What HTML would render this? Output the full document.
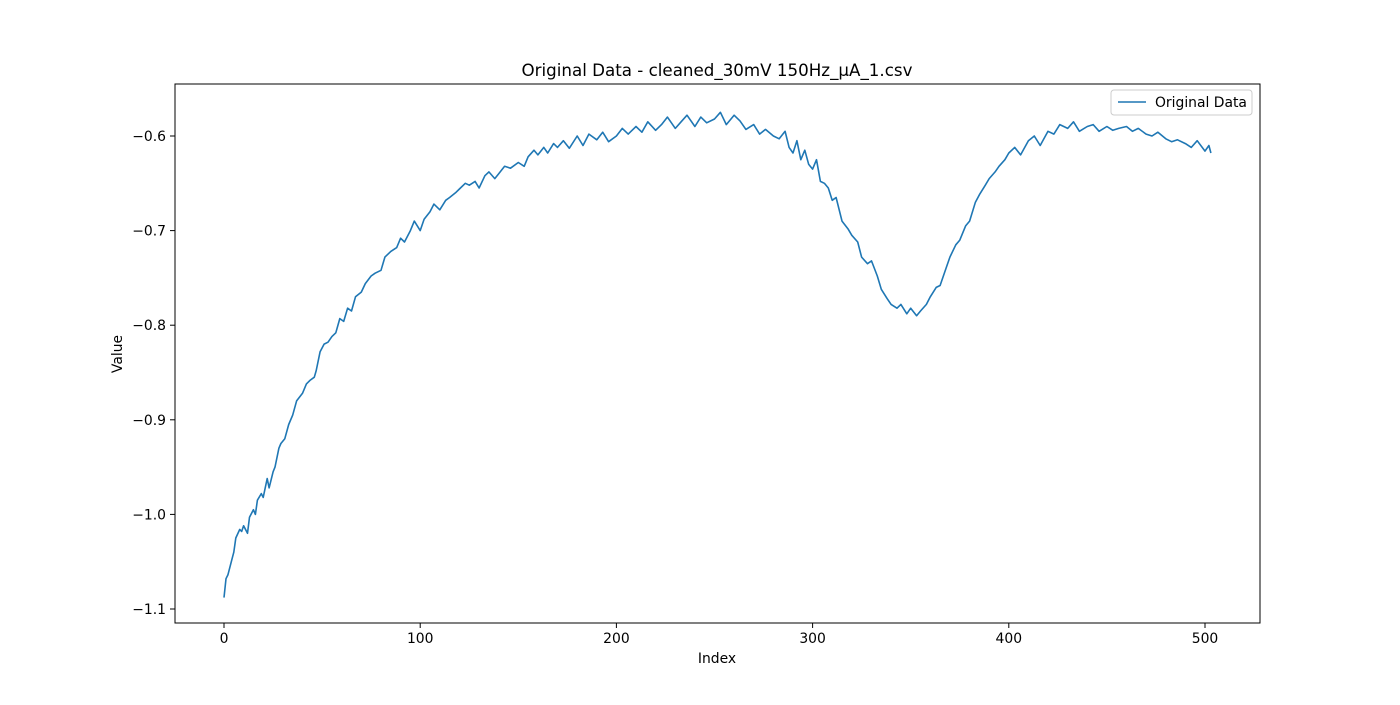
<!DOCTYPE html>
<html><head><meta charset="utf-8"><style>
body{margin:0;background:#fff;}
svg text{font-family:"DejaVu Sans","Liberation Sans",sans-serif;fill:#000;}
</style></head><body>
<svg width="1400" height="700" xmlns="http://www.w3.org/2000/svg">
<rect width="1400" height="700" fill="#fff"/>
<text x="717" y="76" font-size="16.7" text-anchor="middle">Original Data - cleaned_30mV 150Hz_µA_1.csv</text>
<g id="xt"></g><g id="yt"></g>
<polyline id="line" fill="none" stroke="#1f77b4" stroke-width="1.6" stroke-linejoin="round"/>
<rect x="175" y="84" width="1085" height="539" fill="none" stroke="#000" stroke-width="1"/>
<text x="717" y="663" font-size="13.9" text-anchor="middle">Index</text>
<text x="122" y="354" font-size="13.9" text-anchor="middle" transform="rotate(-90 122 354)">Value</text>
<g>
<rect x="1111" y="90" width="141" height="25" rx="3" fill="#fff" stroke="#ccc"/>
<line x1="1118" y1="102" x2="1146" y2="102" stroke="#1f77b4" stroke-width="1.6"/>
<text x="1155" y="107" font-size="13.9">Original Data</text>
</g>
</svg>
<script>
const xIdx=[0,1,2,4,5,6,8,9,10,12,13,15,16,17,19,20,22,23,25,26,28,29,31,33,35,37,40,42,44,46,47,49,51,53,55,57,59,61,63,65,67,70,72,75,77,80,82,85,88,90,92,95,97,100,102,105,107,110,113,115,118,120,123,125,128,130,133,135,138,140,143,146,150,153,155,158,160,163,165,168,170,173,176,180,183,186,190,193,196,200,203,206,210,213,216,220,223,226,230,233,236,240,243,246,250,253,256,260,263,266,270,273,276,280,283,286,288,290,292,294,296,298,300,302,304,306,308,310,312,315,318,320,323,325,328,330,333,335,338,340,343,345,348,350,353,355,358,360,363,365,368,370,373,375,378,380,383,385,388,390,393,395,398,400,403,406,410,413,416,420,423,426,430,433,436,440,443,446,450,453,456,460,463,466,470,473,476,480,483,486,490,493,496,500,502,503];
const yVal=[-1.088,-1.068,-1.064,-1.048,-1.040,-1.025,-1.016,-1.018,-1.012,-1.020,-1.003,-0.995,-1.000,-0.985,-0.978,-0.982,-0.962,-0.972,-0.955,-0.950,-0.930,-0.925,-0.920,-0.905,-0.895,-0.880,-0.872,-0.862,-0.858,-0.855,-0.848,-0.828,-0.820,-0.818,-0.812,-0.808,-0.793,-0.796,-0.782,-0.785,-0.770,-0.765,-0.756,-0.748,-0.745,-0.742,-0.728,-0.722,-0.718,-0.708,-0.712,-0.700,-0.690,-0.700,-0.688,-0.680,-0.672,-0.678,-0.668,-0.665,-0.660,-0.656,-0.650,-0.652,-0.648,-0.655,-0.642,-0.638,-0.645,-0.640,-0.632,-0.634,-0.628,-0.632,-0.622,-0.615,-0.620,-0.612,-0.618,-0.608,-0.612,-0.605,-0.613,-0.600,-0.610,-0.598,-0.604,-0.596,-0.606,-0.600,-0.592,-0.598,-0.590,-0.596,-0.585,-0.594,-0.588,-0.580,-0.592,-0.585,-0.578,-0.590,-0.580,-0.586,-0.582,-0.575,-0.588,-0.578,-0.584,-0.593,-0.588,-0.598,-0.593,-0.600,-0.603,-0.595,-0.612,-0.618,-0.605,-0.625,-0.615,-0.630,-0.635,-0.625,-0.648,-0.650,-0.655,-0.668,-0.665,-0.690,-0.698,-0.705,-0.712,-0.728,-0.735,-0.732,-0.748,-0.762,-0.772,-0.778,-0.782,-0.778,-0.788,-0.782,-0.790,-0.785,-0.778,-0.770,-0.760,-0.758,-0.740,-0.728,-0.715,-0.710,-0.695,-0.690,-0.670,-0.662,-0.652,-0.645,-0.638,-0.632,-0.625,-0.618,-0.612,-0.620,-0.605,-0.600,-0.610,-0.595,-0.598,-0.588,-0.592,-0.585,-0.595,-0.590,-0.588,-0.595,-0.590,-0.594,-0.592,-0.590,-0.595,-0.592,-0.598,-0.600,-0.596,-0.603,-0.606,-0.604,-0.608,-0.612,-0.605,-0.616,-0.610,-0.618,-0.622,-0.616,-0.626,-0.628,-0.620,-0.626,-0.630];
const xTicks=[0,100,200,300,400,500];
const yTicks=[-1.1,-1.0,-0.9,-0.8,-0.7,-0.6];
const xs=v=>224+v*1.962;
const ys=v=>136+(-0.6-v)*946;
const NS="http://www.w3.org/2000/svg";
const xt=document.getElementById('xt'),yt=document.getElementById('yt');
xTicks.forEach(t=>{
 const l=document.createElementNS(NS,'line');
 l.setAttribute('x1',xs(t));l.setAttribute('x2',xs(t));l.setAttribute('y1',623);l.setAttribute('y2',628);l.setAttribute('stroke','#000');
 
 
 xt.appendChild(l);
 const s=document.createElementNS(NS,'text');
 s.setAttribute('x',xs(t));s.setAttribute('y',643);s.setAttribute('font-size','13.9');s.setAttribute('text-anchor','middle');s.textContent=t;
 
 
 xt.appendChild(s);
});
yTicks.forEach(t=>{
 const l=document.createElementNS(NS,'line');
 l.setAttribute('x1',170);l.setAttribute('x2',175);l.setAttribute('y1',ys(t));l.setAttribute('y2',ys(t));l.setAttribute('stroke','#000');
 
 
 yt.appendChild(l);
 const s=document.createElementNS(NS,'text');
 s.setAttribute('x',166);s.setAttribute('y',ys(t)+5);s.setAttribute('font-size','13.9');s.setAttribute('text-anchor','end');s.textContent='\u2212'+Math.abs(t).toFixed(1);
 
 
 yt.appendChild(s);
});
document.getElementById('line').setAttribute('points',xIdx.map((x,i)=>xs(x).toFixed(1)+','+ys(yVal[i]).toFixed(1)).join(' '));
</script>
</body></html>
